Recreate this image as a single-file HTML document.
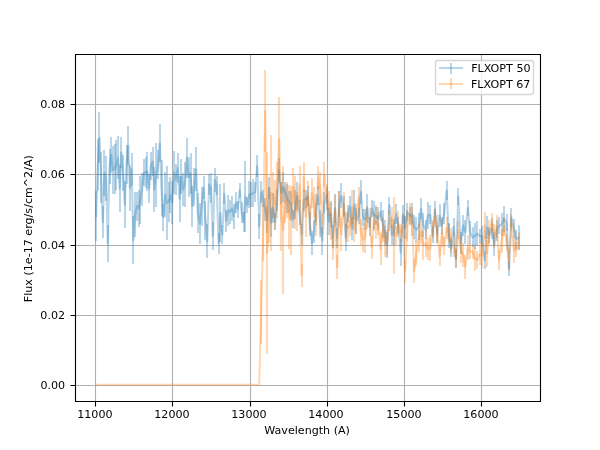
<!DOCTYPE html>
<html><head><meta charset="utf-8"><title>FLXOPT spectra</title><style>html,body{margin:0;padding:0;background:#fff;width:600px;height:450px;overflow:hidden}svg{display:block}text{font-family:'DejaVu Sans',sans-serif;font-size:11.111px;fill:#000}</style></head><body>
<svg width="600" height="450" viewBox="0 0 600 450">
<rect width="600" height="450" fill="#fff"/>
<path d="M95.5 54.5V401.5M172.5 54.5V401.5M250.5 54.5V401.5M327.5 54.5V401.5M404.5 54.5V401.5M481.5 54.5V401.5M75.5 385.5H540.5M75.5 315.5H540.5M75.5 245.5H540.5M75.5 174.5H540.5M75.5 104.5H540.5" stroke="#b0b0b0" stroke-width="1.1111" stroke-linecap="square" fill="none"/>
<svg x="75" y="54" width="465" height="346.5" viewBox="75 54 465 346.5" overflow="hidden">
<g stroke="#1f77b4" stroke-opacity="0.3" stroke-width="2.0833" fill="none"><path d="M96 241V191"/><path d="M98 191V139"/><path d="M99 163V112"/><path d="M101 203V152"/><path d="M103 238V206"/><path d="M104 196V150"/><path d="M106 201V156"/><path d="M108 262V225"/><path d="M110 184V149"/><path d="M111 173V137"/><path d="M113 194V146"/><path d="M115 194V144"/><path d="M116 190V140"/><path d="M118 179V136"/><path d="M120 212V165"/><path d="M121 168V137"/><path d="M123 191V155"/><path d="M125 228V181"/><path d="M127 184V145"/><path d="M128 165V126"/><path d="M130 211V165"/><path d="M132 186V153"/><path d="M133 264V216"/><path d="M135 237V192"/><path d="M137 221V192"/><path d="M139 227V190"/><path d="M140 224V176"/><path d="M142 206V173"/><path d="M144 186V159"/><path d="M146 188V157"/><path d="M147 191V152"/><path d="M149 203V174"/><path d="M151 180V152"/><path d="M153 176V147"/><path d="M154 212V167"/><path d="M156 207V143"/><path d="M158 179V150"/><path d="M160 162V124"/><path d="M162 216V160"/><path d="M163 231V204"/><path d="M165 217V172"/><path d="M167 240V166"/><path d="M169 222V182"/><path d="M170 213V177"/><path d="M172 224V181"/><path d="M174 194V151"/><path d="M176 195V164"/><path d="M178 183V153"/><path d="M180 222V176"/><path d="M181 194V159"/><path d="M183 206V173"/><path d="M185 207V162"/><path d="M187 178V138"/><path d="M189 197V157"/><path d="M191 194V153"/><path d="M192 227V186"/><path d="M194 206V168"/><path d="M196 191V147"/><path d="M198 233V193"/><path d="M200 244V203"/><path d="M202 226V187"/><path d="M204 199V176"/><path d="M205 240V201"/><path d="M207 258V224"/><path d="M209 195V174"/><path d="M211 203V173"/><path d="M213 250V222"/><path d="M215 192V168"/><path d="M217 195V176"/><path d="M219 254V233"/><path d="M220 242V184"/><path d="M222 244V225"/><path d="M224 204V183"/><path d="M226 232V210"/><path d="M228 226V195"/><path d="M230 224V200"/><path d="M232 221V196"/><path d="M234 229V204"/><path d="M236 213V192"/><path d="M238 218V201"/><path d="M240 198V183"/><path d="M242 223V202"/><path d="M244 232V212"/><path d="M245 232V161"/><path d="M247 213V197"/><path d="M249 208V181"/><path d="M251 207V182"/><path d="M253 207V179"/><path d="M255 202V182"/><path d="M257 177V155"/><path d="M259 239V214"/><path d="M261 203V181"/><path d="M263 207V190"/><path d="M265 221V198"/><path d="M267 233V207"/><path d="M269 199V177"/><path d="M271 237V208"/><path d="M273 223V193"/><path d="M275 230V213"/><path d="M277 211V189"/><path d="M279 183V158"/><path d="M281 204V182"/><path d="M283 202V172"/><path d="M285 203V182"/><path d="M287 213V184"/><path d="M289 213V191"/><path d="M291 220V191"/><path d="M293 228V210"/><path d="M295 219V190"/><path d="M297 210V182"/><path d="M300 225V200"/><path d="M302 245V224"/><path d="M304 211V189"/><path d="M306 208V190"/><path d="M308 206V186"/><path d="M310 236V212"/><path d="M312 255V231"/><path d="M314 243V220"/><path d="M316 222V194"/><path d="M318 205V186"/><path d="M320 237V210"/><path d="M322 255V227"/><path d="M324 213V192"/><path d="M327 204V187"/><path d="M329 235V208"/><path d="M331 227V201"/><path d="M333 248V225"/><path d="M335 223V194"/><path d="M337 248V228"/><path d="M339 217V191"/><path d="M341 208V183"/><path d="M344 217V196"/><path d="M346 251V224"/><path d="M348 222V205"/><path d="M350 217V196"/><path d="M352 240V217"/><path d="M354 219V190"/><path d="M356 234V208"/><path d="M359 224V208"/><path d="M361 204V180"/><path d="M363 226V209"/><path d="M365 230V209"/><path d="M367 223V194"/><path d="M370 236V217"/><path d="M372 217V200"/><path d="M374 229V201"/><path d="M376 225V207"/><path d="M378 230V207"/><path d="M381 221V202"/><path d="M383 238V210"/><path d="M385 246V220"/><path d="M387 258V232"/><path d="M389 214V197"/><path d="M392 245V225"/><path d="M394 245V219"/><path d="M396 224V204"/><path d="M398 234V217"/><path d="M401 266V239"/><path d="M403 224V205"/><path d="M405 239V216"/><path d="M407 221V203"/><path d="M410 224V207"/><path d="M412 225V203"/><path d="M414 239V215"/><path d="M416 242V217"/><path d="M419 240V213"/><path d="M421 220V198"/><path d="M423 237V213"/><path d="M426 239V220"/><path d="M428 229V202"/><path d="M430 224V205"/><path d="M433 243V227"/><path d="M435 219V201"/><path d="M437 243V226"/><path d="M440 227V204"/><path d="M442 234V217"/><path d="M444 224V203"/><path d="M447 200V181"/><path d="M449 248V223"/><path d="M451 257V239"/><path d="M454 236V218"/><path d="M456 268V250"/><path d="M458 205V188"/><path d="M461 254V232"/><path d="M463 236V215"/><path d="M465 244V220"/><path d="M468 216V200"/><path d="M470 245V221"/><path d="M473 247V227"/><path d="M475 249V223"/><path d="M477 246V221"/><path d="M480 243V229"/><path d="M482 247V226"/><path d="M485 269V251"/><path d="M487 239V216"/><path d="M489 243V227"/><path d="M492 239V218"/><path d="M494 256V232"/><path d="M497 241V220"/><path d="M499 234V217"/><path d="M502 236V213"/><path d="M504 232V206"/><path d="M507 231V214"/><path d="M509 276V261"/><path d="M511 227V208"/><path d="M514 238V219"/><path d="M516 249V230"/><path d="M519 250V225"/></g>
<g stroke="#ff7f0e" stroke-opacity="0.3" stroke-width="2.0833" fill="none"><path d="M261 344V280"/><path d="M263 261V204"/><path d="M265 152V70"/><path d="M267 354V152"/><path d="M269 243V187"/><path d="M271 251V135"/><path d="M273 218V172"/><path d="M275 230V180"/><path d="M277 218V162"/><path d="M279 181V97"/><path d="M281 251V182"/><path d="M283 294V166"/><path d="M285 223V187"/><path d="M287 218V182"/><path d="M289 249V185"/><path d="M291 255V186"/><path d="M293 205V168"/><path d="M295 229V176"/><path d="M297 231V192"/><path d="M300 203V166"/><path d="M302 287V264"/><path d="M304 192V162"/><path d="M306 237V197"/><path d="M308 206V181"/><path d="M310 231V205"/><path d="M312 208V178"/><path d="M314 217V187"/><path d="M316 236V214"/><path d="M318 189V166"/><path d="M320 205V172"/><path d="M322 234V213"/><path d="M324 187V162"/><path d="M327 210V184"/><path d="M329 216V191"/><path d="M331 240V203"/><path d="M333 260V236"/><path d="M335 227V195"/><path d="M337 279V255"/><path d="M339 227V191"/><path d="M341 251V218"/><path d="M344 216V192"/><path d="M346 242V212"/><path d="M348 242V213"/><path d="M350 236V217"/><path d="M352 224V190"/><path d="M354 242V218"/><path d="M356 234V203"/><path d="M359 208V187"/><path d="M361 246V219"/><path d="M363 252V227"/><path d="M365 253V223"/><path d="M367 229V206"/><path d="M370 228V208"/><path d="M372 259V236"/><path d="M374 231V212"/><path d="M376 239V205"/><path d="M378 235V212"/><path d="M381 265V233"/><path d="M383 242V217"/><path d="M385 257V226"/><path d="M387 255V230"/><path d="M389 231V211"/><path d="M392 228V207"/><path d="M394 274V197"/><path d="M396 245V226"/><path d="M398 237V211"/><path d="M401 242V224"/><path d="M403 238V215"/><path d="M405 283V259"/><path d="M407 241V210"/><path d="M410 226V203"/><path d="M412 236V207"/><path d="M414 283V259"/><path d="M416 266V241"/><path d="M419 252V224"/><path d="M421 244V220"/><path d="M423 260V231"/><path d="M426 257V229"/><path d="M428 260V238"/><path d="M430 261V235"/><path d="M433 238V220"/><path d="M435 227V208"/><path d="M437 243V215"/><path d="M440 266V246"/><path d="M442 247V219"/><path d="M444 255V237"/><path d="M447 239V217"/><path d="M449 243V224"/><path d="M451 253V228"/><path d="M454 257V232"/><path d="M456 268V248"/><path d="M458 239V221"/><path d="M461 263V235"/><path d="M463 267V243"/><path d="M465 279V255"/><path d="M468 260V235"/><path d="M470 259V245"/><path d="M473 259V244"/><path d="M475 271V247"/><path d="M477 269V251"/><path d="M480 265V242"/><path d="M482 268V243"/><path d="M485 239V212"/><path d="M487 267V240"/><path d="M489 246V220"/><path d="M492 231V213"/><path d="M494 248V224"/><path d="M497 238V215"/><path d="M499 270V250"/><path d="M502 253V229"/><path d="M504 236V217"/><path d="M507 250V234"/><path d="M509 271V249"/><path d="M511 230V214"/><path d="M514 263V237"/><path d="M516 257V242"/><path d="M519 250V232"/></g>
<path d="M96.14 216.19 97.80 164.93 99.46 137.70 101.12 177.50 102.79 221.90 104.47 172.91 106.14 178.50 107.82 243.30 109.50 166.49 111.19 154.91 112.88 170.09 114.57 168.94 116.26 165.09 117.96 157.60 119.66 188.63 121.37 152.53 123.08 173.12 124.79 204.68 126.51 164.69 128.22 145.70 129.95 187.83 131.67 169.37 133.40 240.14 135.13 214.70 136.87 206.03 138.61 208.52 140.35 199.88 142.09 189.33 143.84 172.56 145.60 172.32 147.35 171.52 149.11 188.57 150.87 165.86 152.64 161.72 154.41 189.59 156.18 175.00 157.96 164.75 159.74 143.20 161.52 188.00 163.31 217.33 165.10 194.90 166.89 203.00 168.69 201.82 170.49 195.31 172.30 202.57 174.10 172.50 175.92 179.74 177.73 168.04 179.55 198.95 181.37 176.55 183.20 189.72 185.03 184.39 186.86 157.83 188.70 177.01 190.54 173.53 192.38 206.33 194.23 187.11 196.08 169.25 197.93 213.21 199.79 223.65 201.65 206.46 203.52 187.48 205.39 220.34 207.26 241.25 209.13 184.51 211.01 187.89 212.90 235.95 214.78 179.82 216.68 185.40 218.57 243.25 220.47 213.00 222.37 234.64 224.28 193.74 226.19 220.96 228.10 210.50 230.02 212.00 231.94 208.36 233.86 216.54 235.79 202.56 237.72 209.12 239.66 190.28 241.60 212.04 243.54 221.90 245.49 196.50 247.44 205.07 249.39 194.55 251.35 194.48 253.31 192.81 255.28 192.17 257.25 166.16 259.22 226.50 261.20 192.09 263.18 198.50 265.17 209.35 267.15 219.72 269.15 188.02 271.14 222.52 273.15 207.71 275.15 221.47 277.16 199.87 279.17 170.66 281.19 192.83 283.21 187.23 285.23 192.87 287.26 198.83 289.29 201.88 291.33 205.12 293.37 219.44 295.41 204.65 297.46 196.14 299.52 212.62 301.57 234.30 303.63 200.18 305.70 199.06 307.76 196.12 309.84 223.75 311.91 243.22 313.99 231.59 316.08 207.98 318.17 195.76 320.26 223.56 322.36 240.93 324.46 202.23 326.56 195.12 328.67 221.61 330.78 213.65 332.90 236.63 335.02 208.58 337.15 238.20 339.28 203.99 341.41 195.76 343.55 206.63 345.69 237.77 347.84 213.54 349.99 206.45 352.14 228.70 354.30 204.48 356.47 220.63 358.63 215.96 360.80 192.13 362.98 217.65 365.16 219.86 367.34 208.22 369.53 226.62 371.73 208.54 373.92 215.05 376.12 216.20 378.33 218.65 380.54 211.54 382.75 224.07 384.97 233.01 387.20 244.91 389.42 205.43 391.66 235.11 393.89 231.92 396.13 214.08 398.38 225.22 400.63 252.66 402.88 214.46 405.14 227.73 407.40 211.91 409.67 215.87 411.94 214.32 414.21 227.27 416.49 229.64 418.78 226.65 421.07 208.72 423.36 225.02 425.66 229.50 427.96 215.30 430.27 214.74 432.58 234.76 434.90 209.85 437.22 234.30 439.54 215.21 441.87 225.04 444.20 213.35 446.54 190.52 448.89 235.46 451.23 248.21 453.59 226.89 455.94 258.81 458.30 196.56 460.67 243.01 463.04 225.61 465.42 232.06 467.80 208.03 470.18 232.78 472.57 237.23 474.96 236.22 477.36 233.51 479.77 236.05 482.17 236.20 484.59 260.23 487.00 227.46 489.43 234.81 491.85 228.64 494.29 244.24 496.72 230.23 499.16 225.49 501.61 224.64 504.06 218.86 506.51 222.75 508.97 268.28 511.44 217.43 513.91 228.28 516.38 239.38 518.86 237.69" stroke="#1f77b4" stroke-opacity="0.3" stroke-width="2.0833" fill="none" stroke-linejoin="round" stroke-linecap="square"/>
<path d="M96.14 384.75 97.80 384.75 99.46 384.75 101.12 384.75 102.79 384.75 104.47 384.75 106.14 384.75 107.82 384.75 109.50 384.75 111.19 384.75 112.88 384.75 114.57 384.75 116.26 384.75 117.96 384.75 119.66 384.75 121.37 384.75 123.08 384.75 124.79 384.75 126.51 384.75 128.22 384.75 129.95 384.75 131.67 384.75 133.40 384.75 135.13 384.75 136.87 384.75 138.61 384.75 140.35 384.75 142.09 384.75 143.84 384.75 145.60 384.75 147.35 384.75 149.11 384.75 150.87 384.75 152.64 384.75 154.41 384.75 156.18 384.75 157.96 384.75 159.74 384.75 161.52 384.75 163.31 384.75 165.10 384.75 166.89 384.75 168.69 384.75 170.49 384.75 172.30 384.75 174.10 384.75 175.92 384.75 177.73 384.75 179.55 384.75 181.37 384.75 183.20 384.75 185.03 384.75 186.86 384.75 188.70 384.75 190.54 384.75 192.38 384.75 194.23 384.75 196.08 384.75 197.93 384.75 199.79 384.75 201.65 384.75 203.52 384.75 205.39 384.75 207.26 384.75 209.13 384.75 211.01 384.75 212.90 384.75 214.78 384.75 216.68 384.75 218.57 384.75 220.47 384.75 222.37 384.75 224.28 384.75 226.19 384.75 228.10 384.75 230.02 384.75 231.94 384.75 233.86 384.75 235.79 384.75 237.72 384.75 239.66 384.75 241.60 384.75 243.54 384.75 245.49 384.75 247.44 384.75 249.39 384.75 251.35 384.75 253.31 384.75 255.28 384.75 257.25 384.75 259.22 384.75 261.20 312.00 263.18 232.92 265.17 111.00 267.15 253.00 269.15 215.00 271.14 193.00 273.15 194.60 275.15 205.00 277.16 190.00 279.17 139.00 281.19 216.66 283.21 230.00 285.23 205.00 287.26 200.00 289.29 217.15 291.33 220.38 293.37 186.63 295.41 202.43 297.46 211.52 299.52 184.43 301.57 275.60 303.63 176.94 305.70 217.00 307.76 193.33 309.84 217.81 311.91 193.00 313.99 201.97 316.08 224.78 318.17 177.40 320.26 188.48 322.36 223.77 324.46 174.68 326.56 197.29 328.67 203.58 330.78 221.43 332.90 247.87 335.02 210.73 337.15 267.19 339.28 209.10 341.41 234.58 343.55 203.76 345.69 227.21 347.84 227.42 349.99 226.48 352.14 206.97 354.30 229.73 356.47 218.84 358.63 197.32 360.80 232.32 362.98 239.55 365.16 237.88 367.34 217.52 369.53 218.09 371.73 247.73 373.92 221.68 376.12 221.76 378.33 223.65 380.54 249.23 382.75 229.49 384.97 241.61 387.20 242.59 389.42 221.10 391.66 217.69 393.89 235.50 396.13 235.25 398.38 224.10 400.63 233.35 402.88 226.35 405.14 270.77 407.40 225.63 409.67 214.36 411.94 221.52 414.21 271.24 416.49 253.27 418.78 237.88 421.07 231.64 423.36 245.41 425.66 243.15 427.96 248.85 430.27 248.20 432.58 228.76 434.90 217.61 437.22 228.96 439.54 256.11 441.87 233.04 444.20 246.16 446.54 228.00 448.89 233.53 451.23 240.25 453.59 244.31 455.94 258.21 458.30 230.30 460.67 249.05 463.04 254.73 465.42 266.97 467.80 247.50 470.18 252.10 472.57 251.44 474.96 258.88 477.36 259.92 479.77 253.81 482.17 255.70 484.59 225.40 487.00 253.51 489.43 233.26 491.85 222.13 494.29 236.05 496.72 226.31 499.16 260.21 501.61 240.86 504.06 226.39 506.51 242.23 508.97 259.85 511.44 222.04 513.91 250.23 516.38 249.66 518.86 240.73" stroke="#ff7f0e" stroke-opacity="0.3" stroke-width="2.0833" fill="none" stroke-linejoin="round" stroke-linecap="square"/>
</svg>
<path d="M95.5 401.5V406.5M172.5 401.5V406.5M250.5 401.5V406.5M327.5 401.5V406.5M404.5 401.5V406.5M481.5 401.5V406.5M75.5 385.5H70.5M75.5 315.5H70.5M75.5 245.5H70.5M75.5 174.5H70.5M75.5 104.5H70.5" stroke="#000" stroke-width="1.1111" fill="none"/>
<path d="M75.5 401.5V54.5M540.5 401.5V54.5M75.5 401.5H540.5M75.5 54.5H540.5" stroke="#000" stroke-width="1.1111" stroke-linecap="square" fill="none"/>
<text x="94.921" y="417.675" text-anchor="middle">11000</text>
<text x="171.942" y="417.665" text-anchor="middle">12000</text>
<text x="248.982" y="417.675" text-anchor="middle">13000</text>
<text x="325.923" y="417.675" text-anchor="middle">14000</text>
<text x="403.953" y="417.705" text-anchor="middle">15000</text>
<text x="480.964" y="417.715" text-anchor="middle">16000</text>
<text x="307.110" y="433.984" text-anchor="middle">Wavelength (A)</text>
<text x="65.138" y="388.971" text-anchor="end">0.00</text>
<text x="65.108" y="318.878" text-anchor="end">0.02</text>
<text x="65.048" y="248.784" text-anchor="end">0.04</text>
<text x="64.948" y="177.741" text-anchor="end">0.06</text>
<text x="65.058" y="107.588" text-anchor="end">0.08</text>
<text x="31.672" y="228.670" text-anchor="middle" transform="rotate(-90 31.672 228.670)">Flux (1e-17 erg/s/cm^2/A)</text>
<rect x="435.5" y="60.5" width="98" height="34" rx="2.222" fill="#fff" fill-opacity="0.8" stroke="#ccc" stroke-opacity="0.8" stroke-width="1.3889"/>
<path d="M451 63V74" stroke="#1f77b4" stroke-opacity="0.3" stroke-width="2.0833" fill="none"/>
<path d="M440 68H462" stroke="#1f77b4" stroke-opacity="0.3" stroke-width="2.0833" fill="none" stroke-linecap="square"/>
<path d="M451 78V89" stroke="#ff7f0e" stroke-opacity="0.3" stroke-width="2.0833" fill="none"/>
<path d="M440 84H462" stroke="#ff7f0e" stroke-opacity="0.3" stroke-width="2.0833" fill="none" stroke-linecap="square"/>
<text x="471.143" y="72.443" text-anchor="start">FLXOPT 50</text>
<text x="470.993" y="87.832" text-anchor="start">FLXOPT 67</text>
</svg>
</body></html>
